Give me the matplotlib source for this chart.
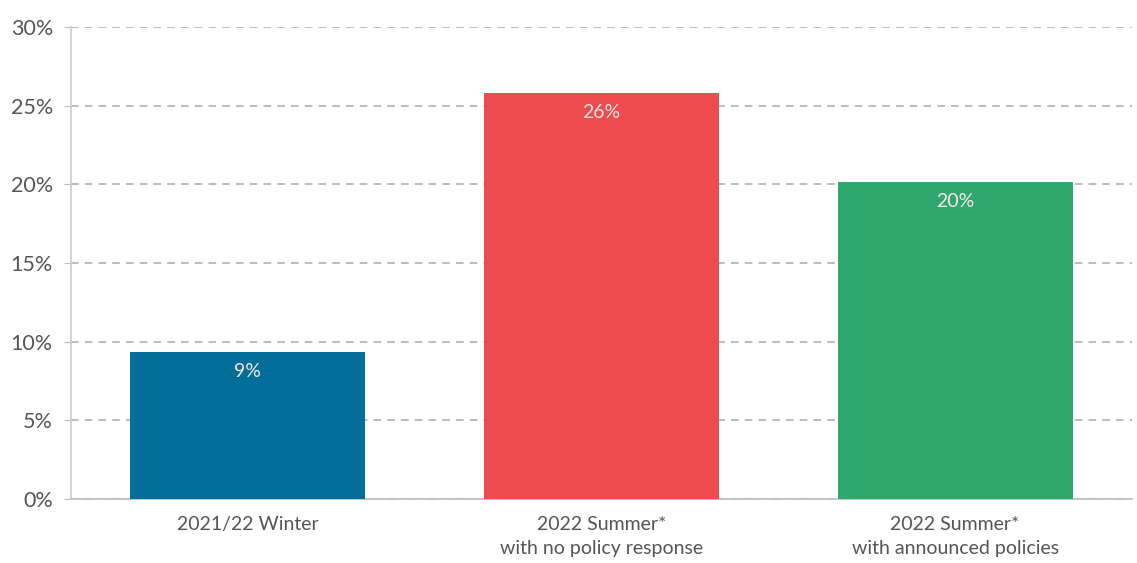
import matplotlib.pyplot as plt
from matplotlib.ticker import FuncFormatter

categories = ["2021/22 Winter", "2022 Summer*\nwith no policy response", "2022 Summer*\nwith announced policies"]
values = [9.35, 25.8, 20.15]
value_labels = ["9%", "26%", "20%"]
colors = ["#036E99", "#EE4B4E", "#2EA86F"]
yticks = [0, 5, 10, 15, 20, 25, 30]

plt.rcParams['font.family'] = ['Lato', 'DejaVu Sans']

fig = plt.figure(figsize=(11.37, 5.63), dpi=100)
ax = fig.add_axes([0.0624, 0.1137, 0.9332, 0.8383])

x = list(range(len(categories)))
bars = ax.bar(x, values, width=0.664, color=colors, zorder=3)

for b, lab in zip(bars, value_labels):
    ax.text(b.get_x() + b.get_width() / 2, b.get_height() - 1.25, lab,
            ha='center', va='center', color='#FBE4E4', fontsize=14, zorder=4)

ax.set_xlim(-0.5, 2.5)
ax.set_ylim(0, 30)
ax.set_yticks(yticks)
ax.yaxis.set_major_formatter(FuncFormatter(lambda v, p: f"{v:.0f}%"))
ax.set_xticks(x)
ax.set_xticklabels(categories, fontsize=14, color='#555555', linespacing=1.55)
ax.tick_params(axis='y', labelsize=15.5, colors='#555555', length=5, color='#bbbbbb', pad=8)
ax.tick_params(axis='x', length=0, pad=12)

ax.grid(axis='y', linestyle=(0, (5, 4)), color='#aaaaaa', linewidth=1.1, zorder=0)
for s in ['top', 'right']:
    ax.spines[s].set_visible(False)
ax.spines['left'].set_color('#cccccc')
ax.spines['bottom'].set_color('#bbbbbb')
ax.spines['left'].set_linewidth(1.2)
ax.spines['bottom'].set_linewidth(1.2)

plt.savefig("out.png", dpi=100)
